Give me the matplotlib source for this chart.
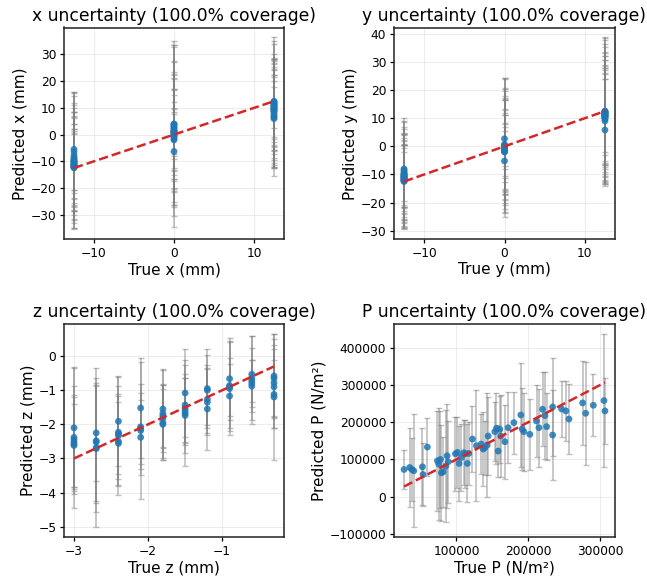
import matplotlib
matplotlib.use("Agg")
import matplotlib.pyplot as plt

# ---- x panel: three true positions, predictions and interval half-widths ----
x_levels = [-12.5, 0.0, 12.5]
x_pred = [
    [-5.5, -6.5, -7.8, -8.6, -9.2, -9.8, -10.1, -10.5, -10.9, -11.2,
     -11.5, -11.8, -12.0, -12.2, -12.4, -10.3, -9.5, -11.0, -11.7, -12.3],
    [4.0, 3.5, 3.0, 2.2, 1.8, 1.4, 1.0, 0.6, 0.2, -0.3,
     -0.8, -1.5, -2.0, -6.3, 2.6, 0.9, 1.2, 3.8, 0.4, -0.5],
    [12.5, 12.2, 11.8, 11.4, 11.0, 10.6, 10.2, 9.8, 9.4, 9.0,
     8.4, 7.6, 7.0, 6.4, 6.0, 12.0, 11.2, 10.4, 9.6, 8.8],
]
x_hw = [
    [21.5, 22, 14, 17, 21, 11, 18.5, 25, 13, 15, 20, 12.5, 23, 16, 19.5, 10.5, 25.5, 17.5, 21.5, 14.5],
    [31, 23.5, 12, 19, 15, 32, 9, 27, 17, 21, 13, 25, 10.5, 14, 20, 16, 8.5, 29, 22, 34],
    [24, 23, 16, 17, 23, 18, 15, 12.5, 19, 21, 14, 20, 11, 22, 18.5, 9.5, 13, 16.5, 10.5, 17.5],
]

# ---- y panel ----
y_levels = [-12.5, 0.0, 12.5]
y_pred = [
    [-8.0, -8.5, -9.0, -9.5, -10.0, -10.4, -10.8, -11.1, -11.4, -11.7,
     -12.0, -12.2, -12.5, -10.2, -11.0, -9.8, -11.9, -12.3, -10.6, -11.3],
    [2.7, 0.6, 0.2, -0.1, -0.4, -0.7, -1.0, -1.3, -1.6, -2.0,
     -5.2, 0.0, -0.3, -0.9, -1.2, 0.4, -0.6, -1.8, -0.2, -1.4],
    [12.5, 12.2, 12.0, 11.7, 11.4, 11.1, 10.8, 10.5, 10.2, 9.8,
     9.0, 5.8, 12.3, 11.9, 11.5, 11.0, 10.6, 10.0, 12.4, 11.2],
]
y_hw = [
    [18, 13, 16, 9.8, 19, 11, 15, 10.5, 17.5, 12, 14, 16.5, 17, 10.8, 11.8, 18.5, 10, 14.5, 13.5, 16],
    [21.5, 16, 24, 7, 17, 12, 19, 22, 14.5, 13, 10.5, 16.8, 20.5, 18, 9.5, 11.5, 24.5, 15, 8, 21],
    [26, 25.5, 24.5, 23.5, 22, 21, 20, 18.5, 17, 16, 15, 18, 26.5, 14, 19, 17.5, 21.5, 23, 15.5, 16.5],
]

# ---- z panel ----
z_levels = [-3.0, -2.7, -2.4, -2.1, -1.8, -1.5, -1.2, -0.9, -0.6, -0.3]
z_pred = [
    [-2.1, -2.38, -2.45, -2.52, -2.58, -2.62],
    [-2.25, -2.48, -2.52, -2.68, -2.71],
    [-1.91, -2.23, -2.28, -2.33, -2.5, -2.56],
    [-1.52, -2.07, -2.12, -2.18, -2.38],
    [-1.55, -1.68, -1.75, -1.82, -1.95, -2.0],
    [-1.08, -1.43, -1.52, -1.6, -1.67, -1.74],
    [-0.95, -1.0, -1.26, -1.35, -1.55],
    [-0.66, -0.86, -0.9, -0.95, -1.17],
    [-0.53, -0.64, -0.72, -0.8, -0.88],
    [-0.58, -0.65, -0.78, -0.9, -1.12, -1.2],
]
z_hw = [
    [1.75, 2.06, 1.59, 1.39, 1.37, 1.22],
    [1.41, 1.84, 1.73, 2.34, 1.85],
    [1.3, 1.37, 1.17, 1.75, 1.32, 1.23],
    [1.48, 1.25, 1.05, 2.0, 1.1],
    [1.15, 1.3, 0.9, 1.0, 1.1, 1.05],
    [1.28, 1.18, 1.0, 0.95, 1.55, 1.1],
    [1.15, 1.03, 1.0, 0.96, 1.2],
    [1.2, 1.32, 0.85, 1.36, 0.95],
    [1.12, 1.24, 0.62, 0.68, 1.12],
    [1.24, 1.14, 0.98, 1.22, 1.0, 1.85],
]

# ---- P panel ----
P_true = [27000, 34900, 38100, 40500, 52600, 53500, 59500, 73500, 75400, 77700,
          79100, 81400, 85100, 87000, 88400, 98600, 101400, 103700, 107000, 110200,
          112600, 115300, 117200, 122300, 127900, 134400, 137200, 139500, 142800, 144200,
          153500, 155800, 158100, 160500, 161800, 167400, 172000, 180000, 189700, 191600,
          193900, 202300, 211600, 214900, 220000, 223200, 225600, 234000, 234000, 246500,
          252500, 256700, 275800, 280000, 290700, 305500, 306900]
P_pred = [72900, 78300, 72900, 69300, 80100, 59400, 133200, 96300, 87300, 99900,
          63900, 66600, 81900, 109800, 93600, 115200, 118800, 89100, 105300, 117900,
          115200, 89100, 116100, 154800, 136800, 141300, 127800, 131400, 138600, 162900,
          174600, 183600, 122400, 180900, 162900, 147600, 185400, 198900, 219600, 181800,
          174600, 167400, 203400, 185400, 234900, 217800, 188100, 165600, 241200, 235800,
          230400, 208800, 252000, 224100, 245700, 258300, 230400]
P_hw = [52000, 105000, 85500, 152000, 104000, 84000, 79000, 135000, 150000, 130000,
        130000, 95000, 150000, 140000, 110000, 100000, 95000, 100000, 90000, 88000,
        92000, 105000, 85000, 88000, 150000, 80000, 100000, 72000, 140000, 105000,
        80000, 96000, 70000, 90000, 110000, 100000, 95000, 83000, 140000, 110000,
        105000, 95000, 97000, 105000, 100000, 117000, 90000, 120000, 132000, 75000,
        80000, 95000, 112000, 138000, 84000, 180000, 88000]

TICK = 8.8
LABEL = 11
TITLE = 12.3


def draw_panel(ax, xs, ys, hws, name, unit):
    ax.errorbar(xs, ys, yerr=hws, fmt='none', ecolor='gray', alpha=0.5,
                elinewidth=1.2, capsize=2.5, capthick=1.0, zorder=2)
    ax.scatter(xs, ys, s=24, color='#1f77b4', alpha=0.85, edgecolors='none', zorder=3)
    lo, hi = min(xs), max(xs)
    ax.plot([lo, hi], [lo, hi], '--', color='#d62728', lw=1.8, zorder=4)
    ax.grid(True, color='#cccccc', alpha=0.35, lw=0.8)
    ax.set_axisbelow(True)
    ax.set_title(f'{name} uncertainty (100.0% coverage)', fontsize=TITLE, pad=5)
    ax.set_xlabel(f'True {name} ({unit})', fontsize=LABEL, labelpad=2)
    ax.set_ylabel(f'Predicted {name} ({unit})', fontsize=LABEL, labelpad=2)
    ax.tick_params(labelsize=TICK, length=3, width=0.9, pad=2.5)
    for s in ax.spines.values():
        s.set_linewidth(1.1)
        s.set_color('#222222')


def flatten(levels, preds, hws):
    xs, ys, es = [], [], []
    for lv, p, h in zip(levels, preds, hws):
        xs += [lv] * len(p)
        ys += p
        es += h
    return xs, ys, es


W, H = 647, 580
fig = plt.figure(figsize=(W / 100, H / 100), dpi=100)


def box(l, t, r, b):
    return [l / W, 1 - b / H, (r - l) / W, (b - t) / H]


ax_x = fig.add_axes(box(64, 27.5, 284, 239))
ax_y = fig.add_axes(box(394, 27.5, 615, 239))
ax_z = fig.add_axes(box(64, 324, 284, 537))
ax_p = fig.add_axes(box(394, 324, 615, 537))

draw_panel(ax_x, *flatten(x_levels, x_pred, x_hw), 'x', 'mm')
draw_panel(ax_y, *flatten(y_levels, y_pred, y_hw), 'y', 'mm')
draw_panel(ax_z, *flatten(z_levels, z_pred, z_hw), 'z', 'mm')
draw_panel(ax_p, P_true, P_pred, P_hw, 'P', 'N/m²')

ax_x.set_xticks([-10, 0, 10])
ax_y.set_xticks([-10, 0, 10])
ax_x.set_yticks([-30, -20, -10, 0, 10, 20, 30])
ax_y.set_yticks([-30, -20, -10, 0, 10, 20, 30, 40])
ax_z.set_yticks([-5, -4, -3, -2, -1, 0])
ax_z.set_xticks([-3, -2, -1])
ax_p.set_xticks([100000, 200000, 300000])
ax_p.set_yticks([-100000, 0, 100000, 200000, 300000, 400000])
ax_p.ticklabel_format(style='plain')

fig.savefig('out.png', dpi=100)
